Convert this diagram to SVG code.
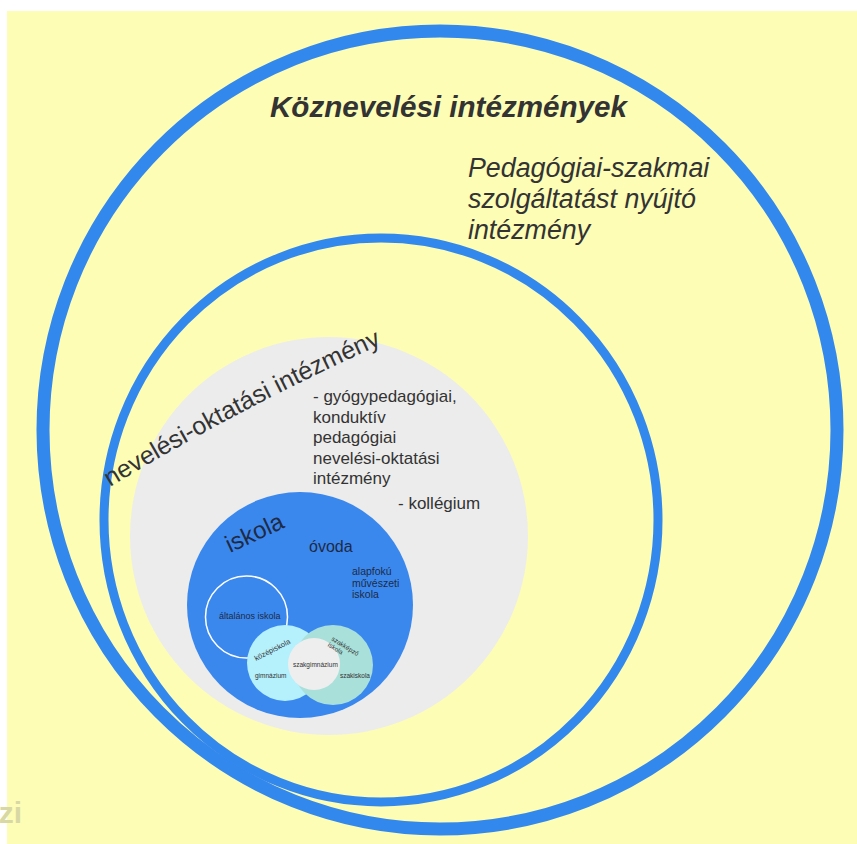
<svg xmlns="http://www.w3.org/2000/svg" width="857" height="844" viewBox="0 0 857 844">
  <defs>
    <style>
      text { font-family: "Liberation Sans", Arial, sans-serif; fill: #333333; }
      .ring { fill: none; stroke: #3388ee; }
      .dark { fill: #1f2a44; }
      .tiny { font-size: 6.5px; fill: #333333; }
    </style>
    <path id="arcText" d="M 110,487 Q 250,402 396,338"/>
  </defs>
  <rect x="0" y="0" width="857" height="844" fill="#ffffff"/>
  <rect x="7" y="11" width="850" height="833" fill="#fdfdb6"/>

  <g id="koznevelesi">
    <ellipse class="ring" cx="440" cy="430" rx="397" ry="399" stroke-width="13"/>
    <text x="270" y="117" font-size="29.6" font-weight="bold" font-style="italic">Köznevelési intézmények</text>
  </g>

  <g id="pedagogiai">
    <text font-size="26.8" font-style="italic">
      <tspan x="468" y="177">Pedagógiai-szakmai</tspan>
      <tspan x="468" y="208">szolgáltatást nyújtó</tspan>
      <tspan x="468" y="239">intézmény</tspan>
    </text>
  </g>

  <g id="inner-ring">
    <ellipse class="ring" cx="381" cy="520" rx="277" ry="282" stroke-width="9"/>
  </g>

  <g id="neveles-oktatas">
    <circle cx="329" cy="536" r="199" fill="#ececec"/>
    <text font-size="25"><textPath href="#arcText">nevelési-oktatási</textPath></text>
    <text font-size="25"><textPath href="#arcText" startOffset="193">intézmény</textPath></text>
    <text font-size="17">
      <tspan x="313" y="402">- gyógypedagógiai,</tspan>
      <tspan x="313" y="422.5">konduktív</tspan>
      <tspan x="313" y="443">pedagógiai</tspan>
      <tspan x="313" y="463.5">nevelési-oktatási</tspan>
      <tspan x="313" y="484">intézmény</tspan>
    </text>
    <text x="398" y="509" font-size="17">- kollégium</text>
  </g>

  <g id="iskola">
    <circle cx="300" cy="605" r="113" fill="#3a88ee"/>
    <text class="dark" font-size="24" transform="translate(230,553) rotate(-25)">iskola</text>
    <text class="dark" x="309" y="552" font-size="16">óvoda</text>
    <text class="dark" font-size="10.5">
      <tspan x="352" y="575">alapfokú</tspan>
      <tspan x="352" y="587">művészeti</tspan>
      <tspan x="352" y="598">iskola</tspan>
    </text>
  </g>

  <g id="altalanos">
    <circle cx="246.5" cy="617" r="41" fill="none" stroke="#ffffff" stroke-width="1.5"/>
    <text class="dark" x="219" y="619" font-size="9">általános iskola</text>
  </g>

  <g id="kozepiskola">
    <circle cx="285" cy="663" r="38" fill="#b5f0fd"/>
    <circle cx="333" cy="665" r="40" fill="#a9e0da"/>
    <circle cx="314" cy="664" r="26" fill="#eeeeee"/>
    <text class="tiny" transform="translate(256,661) rotate(-27)" style="font-size:7.5px">középiskola</text>
    <text class="tiny" x="255" y="678">gimnázium</text>
    <text class="tiny" x="293" y="667">szakgimnázium</text>
    <text class="tiny" transform="translate(331,640) rotate(32)">
      <tspan x="0" y="0">szakképző</tspan>
      <tspan x="0" y="7">iskola</tspan>
    </text>
    <text class="tiny" x="340" y="678">szakiskola</text>
  </g>

  <text x="22" y="823" font-size="30" font-weight="bold" text-anchor="end" style="fill:#d8d8a4">zi</text>
</svg>
